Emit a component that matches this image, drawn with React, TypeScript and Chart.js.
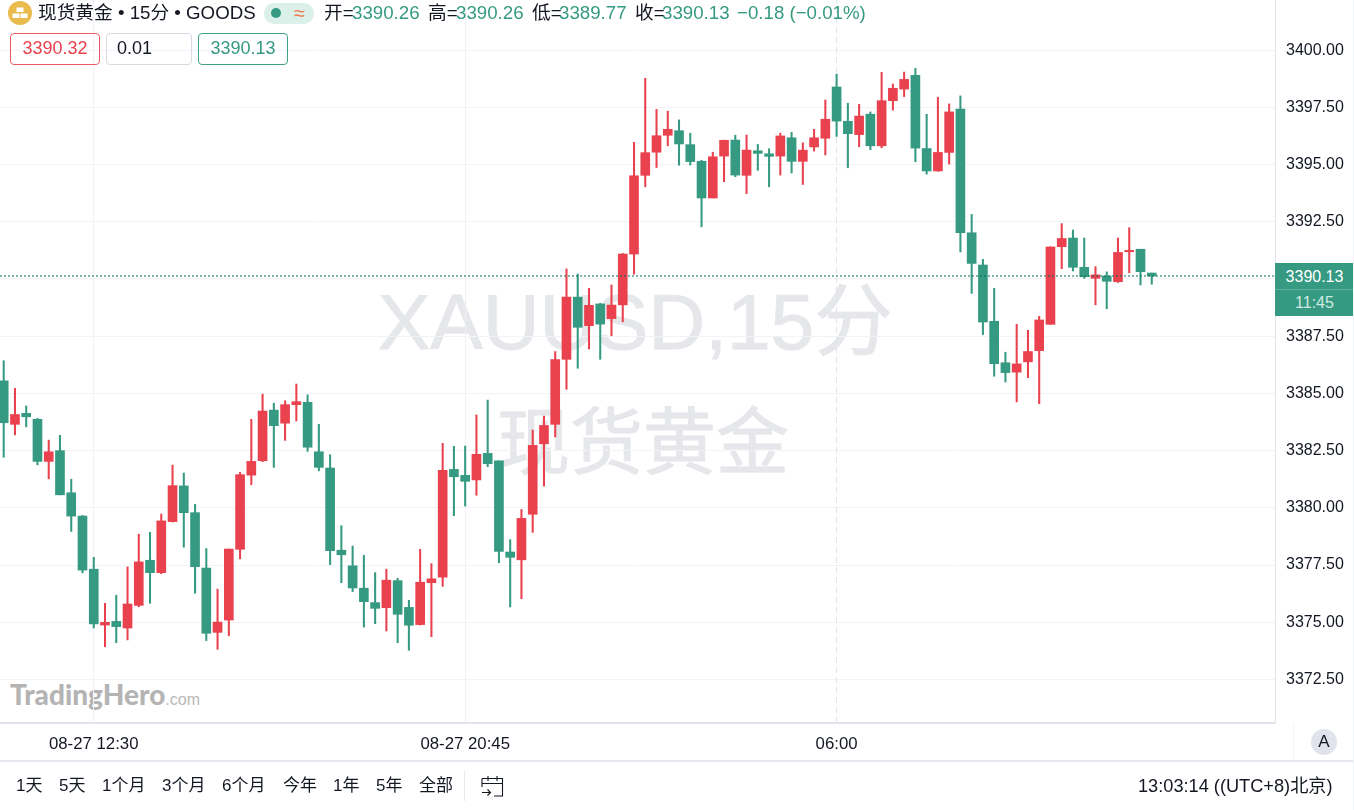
import React, { useEffect, useRef } from "react";
import { Chart, registerables } from "chart.js";

Chart.register(...registerables);

const opens = [
  3385.55, 3383.65, 3384.13, 3383.87, 3382.03, 3382.5, 3380.66, 3379.64, 3377.32, 3374.88,
  3375.04, 3374.75, 3375.74, 3377.71, 3377.17, 3379.4, 3380.96, 3379.79, 3377.37, 3374.56,
  3375.1, 3378.19, 3381.43, 3382.06, 3384.27, 3383.7, 3384.51, 3384.61, 3382.45, 3381.74,
  3378.15, 3377.47, 3376.49, 3375.86, 3375.64, 3376.82, 3375.65, 3374.9, 3376.73, 3376.97,
  3381.68, 3381.42, 3381.22, 3382.38, 3382.05, 3378.07, 3377.73, 3379.72, 3382.8, 3383.65,
  3386.49, 3389.21, 3387.96, 3388.91, 3388.27, 3388.87, 3391.09, 3394.53, 3395.54, 3396.28,
  3396.48, 3395.87, 3395.14, 3393.54, 3395.37, 3396.07, 3394.53, 3395.6, 3395.47, 3395.37,
  3396.17, 3395.14, 3395.77, 3396.15, 3398.39, 3396.89, 3396.31, 3397.2, 3395.82, 3397.79,
  3398.3, 3398.9, 3395.7, 3394.72, 3395.53, 3397.42, 3392.02, 3390.61, 3388.15, 3386.34,
  3385.93, 3386.38, 3386.87, 3388.02, 3391.41, 3391.79, 3390.51, 3390.03, 3390.13, 3389.88,
  3391.19, 3391.3, 3390.26,
];
const closes = [
  3383.72, 3384.08, 3383.98, 3382.03, 3382.45, 3380.57, 3379.64, 3377.28, 3374.93, 3375.0,
  3374.81, 3375.8, 3377.64, 3377.17, 3379.43, 3380.97, 3379.79, 3377.43, 3374.52, 3375.01,
  3378.2, 3381.45, 3382.03, 3384.23, 3383.59, 3384.51, 3384.64, 3382.65, 3381.77, 3378.13,
  3377.95, 3376.5, 3375.9, 3375.61, 3376.84, 3375.35, 3374.87, 3376.75, 3376.9, 3381.64,
  3381.36, 3381.16, 3382.34, 3381.93, 3378.1, 3377.84, 3379.54, 3382.73, 3383.6, 3386.48,
  3389.21, 3387.89, 3388.85, 3388.03, 3388.86, 3391.09, 3394.51, 3395.52, 3396.26, 3396.54,
  3395.9, 3395.13, 3393.54, 3395.34, 3396.06, 3394.54, 3395.63, 3395.49, 3395.36, 3396.25,
  3395.14, 3395.63, 3396.17, 3396.98, 3396.9, 3396.35, 3397.12, 3395.82, 3397.79, 3398.33,
  3398.72, 3395.72, 3394.72, 3395.53, 3397.3, 3392.02, 3390.68, 3388.12, 3386.3, 3385.91,
  3386.29, 3386.83, 3388.21, 3391.4, 3391.77, 3390.51, 3390.1, 3390.18, 3389.9, 3391.16,
  3391.25, 3390.32, 3390.13,
];
const highs = [
  3386.43, 3385.22, 3384.45, 3383.91, 3382.96, 3383.17, 3381.25, 3379.67, 3377.84, 3375.83,
  3376.18, 3377.42, 3378.85, 3378.93, 3379.73, 3381.87, 3381.52, 3380.15, 3378.22, 3376.45,
  3378.2, 3381.55, 3383.87, 3384.97, 3384.57, 3384.68, 3385.41, 3384.94, 3383.65, 3382.32,
  3379.22, 3378.33, 3377.93, 3377.17, 3377.32, 3376.92, 3375.96, 3378.19, 3377.56, 3382.82,
  3382.69, 3382.7, 3384.06, 3384.71, 3382.05, 3378.61, 3379.93, 3383.4, 3384.01, 3386.83,
  3390.44, 3390.21, 3389.59, 3388.94, 3389.74, 3391.12, 3395.97, 3398.77, 3397.41, 3397.33,
  3396.95, 3396.37, 3395.19, 3395.54, 3396.07, 3396.28, 3396.29, 3395.88, 3395.69, 3396.37,
  3396.41, 3395.95, 3396.54, 3397.82, 3398.95, 3397.68, 3397.63, 3397.3, 3399.03, 3398.52,
  3399.04, 3399.2, 3397.2, 3397.94, 3397.65, 3398.0, 3392.82, 3390.86, 3389.59, 3386.8,
  3388.02, 3387.76, 3388.37, 3391.41, 3392.42, 3392.14, 3391.79, 3390.54, 3390.31, 3391.79,
  3392.24, 3391.3, 3390.26,
];
const lows = [
  3382.21, 3383.19, 3383.54, 3381.88, 3381.27, 3380.57, 3378.97, 3377.16, 3374.75, 3373.93,
  3374.11, 3374.23, 3375.68, 3375.83, 3377.12, 3379.38, 3378.28, 3376.27, 3374.2, 3373.82,
  3374.41, 3377.77, 3381.01, 3382.02, 3381.77, 3382.95, 3383.8, 3382.47, 3381.62, 3377.52,
  3376.73, 3376.34, 3374.79, 3374.94, 3374.62, 3374.11, 3373.78, 3374.88, 3374.37, 3376.57,
  3379.66, 3380.08, 3380.55, 3381.8, 3377.6, 3375.67, 3376.03, 3378.93, 3380.95, 3383.1,
  3385.18, 3386.1, 3386.94, 3386.49, 3387.52, 3388.13, 3390.21, 3394.03, 3394.87, 3395.82,
  3394.97, 3394.98, 3392.28, 3393.54, 3394.25, 3394.47, 3393.73, 3394.75, 3394.03, 3394.54,
  3394.63, 3394.13, 3395.59, 3395.42, 3396.23, 3394.86, 3395.78, 3395.65, 3395.73, 3397.38,
  3397.97, 3395.12, 3394.58, 3394.71, 3395.02, 3391.18, 3389.37, 3387.57, 3385.75, 3385.5,
  3384.63, 3385.69, 3384.55, 3388.02, 3390.45, 3390.35, 3390.03, 3388.87, 3388.7, 3389.85,
  3390.27, 3389.74, 3389.77,
];

const yTickValues = [3372.5, 3375, 3377.5, 3380, 3382.5, 3385, 3387.5, 3390, 3392.5, 3395, 3397.5, 3400];
const xTickIndexes = [8, 41, 74];
const xTickLabels = ["08-27 12:30", "08-27 20:45", "06:00"];
const rangeButtons = ["1天", "5天", "1个月", "3个月", "6个月", "今年", "1年", "5年", "全部"];
const lastPrice = 3390.13;
const yMin = 3370.6;
const yMax = 3402.19;
const xMin = -0.329;
const xMax = 112.95;

const GREEN = "#359a81";
const RED = "#e9414d";
const FONT = '"Liberation Sans","Noto Sans CJK SC",sans-serif';

function abs(left: number, top: number, extra: React.CSSProperties = {}): React.CSSProperties {
  return { position: "absolute", left, top, whiteSpace: "nowrap", ...extra };
}

function noPadding(s: any) {
  s.paddingLeft = 0;
  s.paddingRight = 0;
  s.paddingTop = 0;
  s.paddingBottom = 0;
}

export default function App() {
  const ref = useRef<HTMLCanvasElement>(null);

  useEffect(() => {
    const idx = opens.map((_, i) => i);
    const colors = idx.map((i) => (closes[i] >= opens[i] ? RED : GREEN));
    const chart = new Chart(ref.current as HTMLCanvasElement, {
      type: "bar",
      data: {
        datasets: [
          {
            type: "line",
            data: [
              { x: xMin, y: lastPrice },
              { x: xMax, y: lastPrice },
            ],
            borderColor: "#046e55",
            borderWidth: 1.2,
            borderDash: [2, 2],
            pointRadius: 0,
            order: 0,
          },
          {
            type: "bar",
            data: idx.map((i) => ({ x: i, y: [opens[i], closes[i]] })),
            backgroundColor: colors,
            barThickness: 9,
            grouped: false,
            order: 1,
          },
          {
            type: "bar",
            data: idx.map((i) => ({ x: i, y: [lows[i], highs[i]] })),
            backgroundColor: colors,
            barThickness: 1.4,
            grouped: false,
            order: 2,
          },
          {
            type: "line",
            data: [
              { x: xTickIndexes[2], y: yMin },
              { x: xTickIndexes[2], y: yMax },
            ],
            borderColor: "#e0e3eb",
            borderWidth: 1,
            borderDash: [6, 4],
            pointRadius: 0,
            order: 3,
          },
        ],
      } as any,
      options: {
        animation: false,
        responsive: false,
        devicePixelRatio: 1,
        layout: { padding: { left: 0, right: 0, top: 0, bottom: 50 } },
        plugins: { legend: { display: false }, tooltip: { enabled: false }, title: { display: false } },
        scales: {
          x: {
            type: "linear",
            min: xMin,
            max: xMax,
            offset: false,
            afterFit: (s: any) => {
              s.height = 37;
              noPadding(s);
            },
            afterBuildTicks: (s: any) => {
              s.ticks = xTickIndexes.map((value) => ({ value }));
            },
            grid: {
              offset: false,
              drawTicks: false,
              color: (c: any) => (c.tick && c.tick.value === xTickIndexes[2] ? "rgba(0,0,0,0)" : "#f0f1f6"),
            },
            border: { display: true, color: "#e0e3eb", width: 2 },
            ticks: {
              autoSkip: false,
              maxRotation: 0,
              padding: 11,
              color: "#131722",
              font: { family: FONT, size: 16.8 },
              callback: (v: any) => xTickLabels[xTickIndexes.indexOf(v)] ?? "",
            },
          },
          y: {
            type: "linear",
            position: "right",
            min: yMin,
            max: yMax,
            afterFit: (s: any) => {
              s.width = 79;
              noPadding(s);
            },
            afterBuildTicks: (s: any) => {
              s.ticks = yTickValues.map((value) => ({ value }));
            },
            grid: { drawTicks: false, color: "#f2f3f7" },
            border: { display: true, color: "#e0e3eb", width: 1 },
            ticks: {
              autoSkip: false,
              padding: 11,
              color: "#131722",
              font: { family: FONT, size: 16 },
              callback: (v: any) => Number(v).toFixed(2),
            },
          },
        },
      } as any,
    });
    return () => chart.destroy();
  }, []);

  const boxes = [
    { left: 10, width: 90, text: "3390.32", color: RED, border: "#ee5a64" },
    { left: 106, width: 86, text: "0.01", color: "#131722", border: "#d8d9e2" },
    { left: 198, width: 90, text: "3390.13", color: GREEN, border: "#3f9f88" },
  ];
  const legend = [
    { x: 324, t: "开=", c: "#131722" },
    { x: 352, t: "3390.26", c: GREEN },
    { x: 428, t: "高=", c: "#131722" },
    { x: 456, t: "3390.26", c: GREEN },
    { x: 532, t: "低=", c: "#131722" },
    { x: 559, t: "3389.77", c: GREEN },
    { x: 635, t: "收=", c: "#131722" },
    { x: 662, t: "3390.13", c: GREEN },
    { x: 737, t: "−0.18 (−0.01%)", c: GREEN },
  ];
  const rangeX = [16, 59, 102, 162, 222, 283, 333, 376, 419];

  return (
    <div style={{ position: "absolute", left: 0, top: 0, width: 1354, height: 810, overflow: "hidden", background: "#fff", fontFamily: FONT, color: "#131722" }}>
      <div style={abs(378, 277, { fontSize: 78.5, lineHeight: "90px", color: "#e6e7ea", WebkitTextStroke: "1px #e6e7ea" })}>XAUUSD,15分</div>
      <div style={abs(497, 398, { fontSize: 73, lineHeight: "90px", color: "#e6e7ea", WebkitTextStroke: "1px #e6e7ea" })}>现货黄金</div>
      <div style={abs(10, 677, { fontFamily: "Lato,sans-serif", fontWeight: 900, fontSize: 28, lineHeight: "34px", color: "#b4b4b4" })}>
        TradingHero<span style={{ fontFamily: FONT, fontWeight: 400, fontSize: 16, color: "#b8b8b8" }}>.com</span>
      </div>

      <canvas ref={ref} width={1354} height={810} style={{ position: "absolute", left: 0, top: 0, width: 1354, height: 810 }} />

      <svg style={abs(8, 1)} width={24} height={24} viewBox="0 0 24 24">
        <circle cx={12} cy={12} r={12} fill="#e9bb4e" />
        <rect x={8.5} y={6.5} width={7} height={4.5} fill="#fff" />
        <rect x={4.5} y={12.5} width={7} height={4.5} fill="#fff" />
        <rect x={12.5} y={12.5} width={7} height={4.5} fill="#fff" />
      </svg>
      <div style={abs(38, 1, { fontSize: 18.7, lineHeight: "24px" })}>现货黄金 • 15分 • GOODS</div>
      <div style={abs(264, 3, { width: 50, height: 21, borderRadius: 10, background: "#dcf0ea" })} />
      <div style={abs(271, 8, { width: 10, height: 10, borderRadius: 5, background: GREEN })} />
      <div style={abs(294, 1, { fontSize: 20, lineHeight: "24px", color: "#f2784b" })}>≈</div>
      {legend.map((l) => (
        <div key={l.x} style={abs(l.x, 1, { fontSize: 18.7, lineHeight: "24px", color: l.c })}>
          {l.t}
        </div>
      ))}
      {boxes.map((b) => (
        <div
          key={b.left}
          style={abs(b.left, 33, {
            width: b.width,
            height: 32,
            boxSizing: "border-box",
            border: `1px solid ${b.border}`,
            borderRadius: 4,
            color: b.color,
            fontSize: 18,
            lineHeight: "29px",
            textAlign: b.text === "0.01" ? "left" : "center",
            paddingLeft: b.text === "0.01" ? 10 : 0,
          })}
        >
          {b.text}
        </div>
      ))}

      <div style={abs(1275, 263, { width: 79, height: 26, background: GREEN, color: "#fff", fontSize: 16, lineHeight: "27px", textAlign: "center" })}>
        3390.13
      </div>
      <div style={abs(1275, 289, { width: 79, height: 27, background: GREEN, borderTop: "1px solid #5fb09c", boxSizing: "border-box", color: "#cfe9e1", fontSize: 16, lineHeight: "26px", textAlign: "center" })}>
        11:45
      </div>

      <div style={abs(1293, 724, { width: 1, height: 36, background: "#f3f4f7" })} />
      <div style={abs(1311, 729, { width: 26, height: 26, borderRadius: 13, background: "#e0e3eb", fontSize: 17, lineHeight: "26px", textAlign: "center" })}>A</div>
      <div style={abs(0, 760, { width: 1354, height: 2, background: "#e6e8ef" })} />
      <div style={abs(1353, 0, { width: 1, height: 810, background: "#f2f3f7" })} />
      {rangeButtons.map((t, i) => (
        <div key={t} style={abs(rangeX[i], 775, { fontSize: 17, lineHeight: "22px" })}>
          {t}
        </div>
      ))}
      <div style={abs(464, 771, { width: 1, height: 30, background: "#e6e8ef" })} />
      <svg style={abs(480, 774)} width={25} height={25} viewBox="0 0 25 25" fill="none" stroke="#131722" strokeWidth={1.1}>
        <path d="M2 4.5H22.5V22H14M2 4.5V13M2 9.5H22.5M8 2V7M17 2V7M2 18.5H10.5M7.5 15.5L10.5 18.5L7.5 21.5" />
      </svg>
      <div style={abs(1138, 775, { fontSize: 18.2, lineHeight: "22px" })}>13:03:14 ((UTC+8)北京)</div>
    </div>
  );
}
